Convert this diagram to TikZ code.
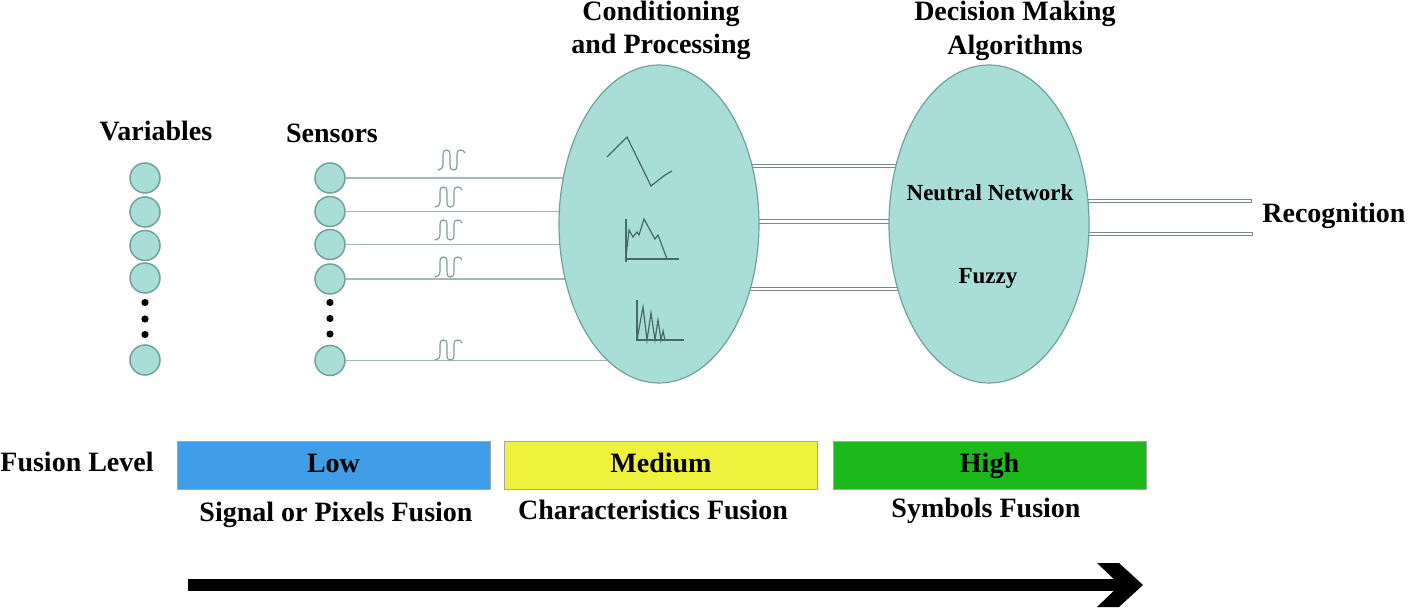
\documentclass[tikz,border=0pt]{standalone}
\usepackage{fontspec}
\setmainfont{Liberation Serif}
\usetikzlibrary{backgrounds,calc,shapes.geometric}
\definecolor{tealfill}{RGB}{168,221,216}
\definecolor{tealdraw}{RGB}{112,162,155}
\definecolor{linec}{RGB}{160,186,183}
\definecolor{wavec}{RGB}{125,158,156}
\definecolor{graphc}{RGB}{70,105,105}
\definecolor{lowc}{RGB}{64,158,232}
\definecolor{medc}{RGB}{238,242,60}
\definecolor{highc}{RGB}{28,184,28}
\tikzset{
  bigtxt/.style={font=\bfseries\fontsize{14}{16}\selectfont, inner sep=0pt},
  smalltxt/.style={font=\bfseries\fontsize{11.5}{13}\selectfont, inner sep=0pt},
  dotc/.style={circle, fill=tealfill, draw=tealdraw, line width=0.75pt, minimum size=15pt, inner sep=0pt},
  blob/.style={ellipse, fill=tealfill, draw=tealdraw, line width=0.6pt, minimum width=100pt, minimum height=159pt, inner sep=0pt},
  sline/.style={draw=linec, line width=0.75pt},
  bar/.style={draw=linec!75!black, double=white, double distance=1.3pt, line width=0.5pt, line cap=rect},
  levelbox/.style={draw=black!35, line width=0.4pt, minimum width=156.5pt, minimum height=24pt, inner sep=0pt, text height=10pt, text depth=2pt, font=\bfseries\fontsize{14}{16}\selectfont},
  blackdot/.style={circle, fill=black, minimum size=3.6pt, inner sep=0pt},
  wave/.pic={
    \draw[wavec, line width=0.6pt, line cap=round]
      (0,20) .. controls (3,20) and (5,18) .. (5,14) -- (5,6)
      .. controls (5,1) and (6,0) .. (8.5,0) .. controls (11,0) and (12,1) .. (12,6)
      -- (12,14) .. controls (12,19) and (13,20) .. (15.5,20)
      .. controls (18,20) and (19,19) .. (19,14) -- (19,6)
      .. controls (19,1) and (20,0) .. (22.5,0) .. controls (25,0) and (26,1) .. (27,3);
  }
}
\begin{document}
\begin{tikzpicture}[x=0.5pt,y=-0.5pt]
\useasboundingbox (0,0) rectangle (1415,609);

% titles
\node[bigtxt, anchor=base] (tvar) at (156,141) {Variables};
\node[bigtxt, anchor=base] (tsen) at (332,143) {Sensors};
\node[bigtxt, anchor=base] (tcon1) at (661,21) {Conditioning};
\node[bigtxt, anchor=base] (tcon2) at (661,54) {and Processing};
\node[bigtxt, anchor=base] (tdec1) at (1015,21) {Decision Making};
\node[bigtxt, anchor=base] (tdec2) at (1015,55) {Algorithms};

% variables
\node[dotc] (v1) at (145,178) {};
\node[dotc] (v2) at (145,212) {};
\node[dotc] (v3) at (145,245.5) {};
\node[dotc] (v4) at (145,278) {};
\node[blackdot] (vd1) at (145,302.5) {};
\node[blackdot] (vd2) at (145,319) {};
\node[blackdot] (vd3) at (145,334.5) {};
\node[dotc] (v5) at (145,360) {};

% sensors
\node[dotc] (s1) at (330,178) {};
\node[dotc] (s2) at (330,211.5) {};
\node[dotc] (s3) at (330,244.5) {};
\node[dotc] (s4) at (330,279) {};
\node[blackdot] (sd1) at (330,302.5) {};
\node[blackdot] (sd2) at (330,318.5) {};
\node[blackdot] (sd3) at (330,334) {};
\node[dotc] (s5) at (330,360.5) {};

% ellipses
\node[blob] (e1) at (659,224) {};
\node[blob] (e2) at (989,224) {};

\begin{scope}[on background layer]
  \foreach \s in {s1,s2,s3,s4,s5} \draw[sline] (\s.east) -- (\s -| e1.center);
  \coordinate (b1) at (0,166);
  \coordinate (b2) at (0,221.5);
  \coordinate (b3) at (0,289);
  \foreach \b in {b1,b2,b3} \draw[bar] (e1.center |- \b) -- (e2.center |- \b);
  \coordinate (o1) at (1250,201);
  \coordinate (o2) at (1251,234);
  \draw[bar] (e2.center |- o1) -- (o1);
  \draw[bar] (e2.center |- o2) -- (o2);
\end{scope}

% waves
\pic at (438,150) {wave};
\pic at (435,187) {wave};
\pic at (435,220) {wave};
\pic at (435,257) {wave};
\pic at (435,340) {wave};

% graphs inside ellipse 1
\draw[graphc, line width=0.6pt] (607,157) -- (627,137) -- (651,186) -- (665,175) -- (672,171);
\draw[graphc, line width=0.6pt] (626,219) -- (626,262) (626,259) -- (679,259);
\draw[graphc, line width=0.6pt] (626,257) -- (629,230) -- (633,237) -- (637,232) -- (639,235) -- (644,219) -- (655,239) -- (658,235) -- (667,259);
\draw[graphc, line width=0.6pt] (637,300) -- (637,340) -- (684,340);
\draw[graphc, line width=0.6pt] (637,340) -- (643,307) -- (647,340) -- (651,313) -- (655,340) -- (658,320) -- (661,340) -- (663,331) -- (665,340);

% ellipse texts
\node[smalltxt, anchor=base] (nn) at (990,201) {Neutral Network};
\node[smalltxt, anchor=base] (fz) at (988,284) {Fuzzy};
\node[bigtxt, anchor=base west] (rec) at (1262,223) {Recognition};

% fusion level
\node[bigtxt, anchor=base west] (fl) at (0,472) {Fusion Level};
\node[levelbox, fill=lowc] (low) at (333.5,465) {Low};
\node[levelbox, fill=medc] (med) at (661,465) {Medium};
\node[levelbox, fill=highc] (high) at (989.5,465) {High};
\node[bigtxt, anchor=base] (lsig) at (336,522) {Signal or Pixels Fusion};
\node[bigtxt, anchor=base] (lcha) at (653,519) {Characteristics Fusion};
\node[bigtxt, anchor=base] (lsym) at (986,517) {Symbols Fusion};

% big arrow
\coordinate (as) at (188,585);
\coordinate (ae) at (1122,585);
\draw[line width=5.6pt] (as) -- (ae);
\fill ($(ae)+(-25,-22)$) -- ($(ae)+(-3,-22)$) -- ($(ae)+(21,0)$) -- ($(ae)+(-3,22)$) -- ($(ae)+(-25,22)$) -- ($(ae)+(-2,0)$) -- cycle;
\end{tikzpicture}
\end{document}
